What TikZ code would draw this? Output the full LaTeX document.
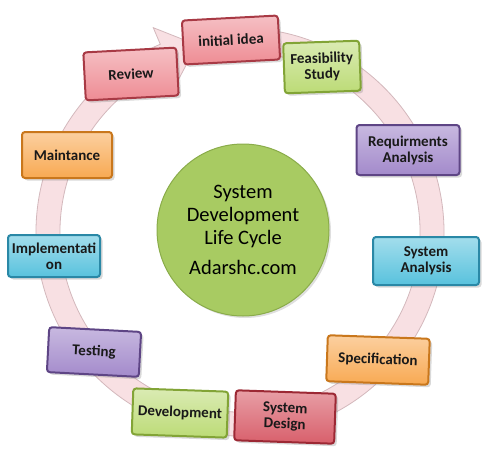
\documentclass[tikz,border=0pt]{standalone}
\usepackage{fontspec}
\setmainfont{Carlito}
\usetikzlibrary{shadows}
\definecolor{redfill}{HTML}{EE8C94}
\definecolor{reddark}{HTML}{A83A45}
\definecolor{deepredfill}{HTML}{D85F6B}
\definecolor{deepreddark}{HTML}{9C2834}
\definecolor{greenfill}{HTML}{BCDB76}
\definecolor{greendark}{HTML}{82A436}
\definecolor{purplefill}{HTML}{A38ACB}
\definecolor{purpledark}{HTML}{5E4585}
\definecolor{cyanfill}{HTML}{58C2DD}
\definecolor{cyandark}{HTML}{2A88A6}
\definecolor{orangefill}{HTML}{F8A952}
\definecolor{orangedark}{HTML}{C9771C}
\definecolor{hubfill}{HTML}{A8CB62}
\definecolor{hubdark}{HTML}{8AAC4A}
\definecolor{ringfill}{HTML}{F8E0E3}
\definecolor{ringedge}{HTML}{D3B8BC}
\tikzstyle{stage}=[rectangle,rounded corners=3pt,line width=2pt,minimum width=92pt,minimum height=44pt,inner sep=2pt,align=center,font=\bfseries\fontsize{15}{16}\selectfont,text=black!90,drop shadow={opacity=0.3,shadow xshift=2.5pt,shadow yshift=-2.5pt}]
\tikzstyle{redstage}=[stage,draw=reddark,top color=redfill!55!white,bottom color=redfill]
\tikzstyle{deepredstage}=[stage,draw=deepreddark,top color=deepredfill!60!white,bottom color=deepredfill]
\tikzstyle{greenstage}=[stage,draw=greendark,top color=greenfill!55!white,bottom color=greenfill]
\tikzstyle{purplestage}=[stage,draw=purpledark,top color=purplefill!60!white,bottom color=purplefill]
\tikzstyle{cyanstage}=[stage,draw=cyandark,top color=cyanfill!55!white,bottom color=cyanfill]
\tikzstyle{orangestage}=[stage,draw=orangedark,top color=orangefill!55!white,bottom color=orangefill]
\tikzstyle{hub}=[circle,draw=hubdark,line width=1pt,fill=hubfill,minimum size=172pt,inner sep=0pt,align=center,font=\fontsize{20.5}{23}\selectfont,text=black,drop shadow={opacity=0.25,shadow xshift=2pt,shadow yshift=-2pt}]
\tikzstyle{ring}=[fill=ringfill,draw=ringedge,line width=0.8pt]

\begin{document}
\begin{tikzpicture}[x=1pt,y=-1pt]
    \useasboundingbox (0,0) rectangle (490,461);
    % circular arrow behind the stages
    \begin{scope}[shift={(240,232)}]
        \path[ring] (-98:204) arc[start angle=-98,end angle=247,radius=204]
            -- (247:222) -- (257:192) -- (247:162)
            -- (247:180) arc[start angle=247,end angle=-98,radius=180] -- cycle;
    \end{scope}
    \node[hub] (sdlc) at (243,230) {System\\Development\\Life Cycle\\[7pt]Adarshc.com};
    \node[redstage,rotate=3,minimum width=96pt] (idea) at (231,40) {initial idea};
    \node[greenstage,rotate=2,minimum width=76pt,minimum height=50pt] (feasibility) at (322,67) {Feasibility\\Study};
    \node[purplestage,minimum width=103pt,minimum height=50pt] (requirements) at (408,150) {Requirments\\Analysis};
    \node[cyanstage,minimum width=106pt,minimum height=48pt] (sysanalysis) at (426,261) {System\\Analysis};
    \node[orangestage,rotate=-2,minimum width=102pt,minimum height=46pt] (specification) at (378,360) {Specification};
    \node[deepredstage,rotate=-2,minimum width=100pt,minimum height=50pt] (sysdesign) at (285,417) {System\\Design};
    \node[greenstage,rotate=-2,minimum width=95pt,minimum height=46pt] (development) at (180,413) {Development};
    \node[purplestage,rotate=-3,minimum width=92pt,minimum height=45pt] (testing) at (94,352) {Testing};
    \node[cyanstage,minimum width=92pt,minimum height=42pt] (implementation) at (54,256) {Implementati\\on};
    \node[orangestage,minimum width=90pt,minimum height=46pt] (maintance) at (67,155) {Maintance};
    \node[redstage,rotate=3,minimum width=93pt,minimum height=48pt] (review) at (131,74) {Review};
\end{tikzpicture}
\end{document}
